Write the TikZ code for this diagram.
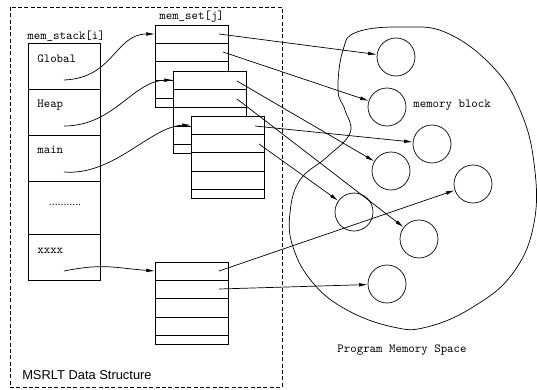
\documentclass[tikz,border=0pt]{standalone}
\usepackage{fontspec}
\setsansfont{Liberation Sans}
\usetikzlibrary{arrows.meta}
\begin{document}
\begin{tikzpicture}[x=0.03cm, y=-0.03cm, line width=0.6pt,
        block/.style = {circle, draw,
            minimum size = 1.14cm,
            inner sep = 0pt
        },
        code/.style = {font = \ttfamily\fontsize{10.5}{12}\selectfont, inner sep = 0pt},
        setbox/.style = {draw, fill = white},
        ptr/.style = {-{Latex[length = 2.6mm, width = 1.1mm]}}]

    \useasboundingbox (0,0) rectangle (537,389);

    % MSRLT area
    \draw[dash pattern = on 1.2mm off 0.7mm, line width = 0.5pt] (10,7) rectangle (282,387);
    \node[anchor = west, font = \sffamily\fontsize{11}{13}\selectfont] (msrlt) at (18,375) {MSRLT Data Structure};

    % mem_stack
    \node[code, anchor = west] (stacklabel) at (27,36) {mem\_stack[i]};
    \draw (28,43) rectangle (100,280);
    \draw (28,89) -- (100,89);
    \draw (28,135) -- (100,135);
    \draw (28,181) -- (100,181);
    \draw (28,234) -- (100,234);
    \node[code, anchor = west] (global) at (37,59) {Global};
    \node[code, anchor = west] (heap) at (37,105) {Heap};
    \node[code, anchor = west] (main) at (37,150) {main};
    \node[font = \sffamily\fontsize{9}{11}\selectfont, inner sep = 0pt] (dots) at (65,205) {...........};
    \node[code, anchor = west] (xxxx) at (37,251) {xxxx};
    \coordinate (globalout) at (64,80);
    \coordinate (heapout) at (64,126);
    \coordinate (mainout) at (64,172);
    \coordinate (xxxxout) at (64,271);

    % mem_set
    \node[code, anchor = west] (setlabel) at (159,17) {mem\_set[j]};
    \draw[setbox] (155,25) rectangle (228,107);
    \foreach \r in {18.3,36.6,55,73.3} \draw (155,25+\r) -- ++(73,0);
    \draw[setbox] (173,71) rectangle (246,153);
    \foreach \r in {18.3,36.6,55,73.3} \draw (173,71+\r) -- ++(73,0);
    \draw[setbox] (191,116) rectangle (264,198);
    \foreach \r in {18.3,36.6,55,73.3} \draw (191,116+\r) -- ++(73,0);
    \draw[setbox] (155,262) rectangle (228,344);
    \foreach \r in {18.3,36.6,55,73.3} \draw (155,262+\r) -- ++(73,0);

    \coordinate (set1in) at (155,34);
    \coordinate (set2in) at (173,80);
    \coordinate (set3in) at (191,125);
    \coordinate (set4in) at (155,271);
    \coordinate (s1a) at (219,34);
    \coordinate (s1b) at (223,52);
    \coordinate (s2a) at (237,81);
    \coordinate (s2b) at (237,99);
    \coordinate (s3a) at (255,126);
    \coordinate (s3b) at (259,144);
    \coordinate (s4a) at (219,271);
    \coordinate (s4b) at (219,289);

    % stack -> set
    \draw[ptr] (globalout) .. controls +(50,-2) and +(-40,0) .. (set1in);
    \draw[ptr] (heapout) .. controls +(50,0) and +(-40,1) .. (set2in);
    \draw[ptr] (mainout) .. controls +(50,4) and +(-40,1) .. (set3in);
    \draw[ptr] (xxxxout) .. controls +(40,-8) and +(-40,-3) .. (set4in);

    % Program memory space
    \draw plot[smooth cycle, tension = 0.7] coordinates {
        (343,50) (357,32) (403,27) (447,33) (493,67) (520,110) (534,163)
        (534,223) (513,273) (473,307) (427,327) (393,327) (347,310)
        (313,283) (293,247) (290,213) (300,180) (327,157) (350,133)
        (345,110) (338,90)};
    \node[code, anchor = west] (memlabel) at (413,105) {memory block};
    \node[code] (spacelabel) at (402,350) {Program Memory Space};

    % memory blocks
    \node[block] (blk1) at (396,57) {};
    \node[block] (blk2) at (387,107) {};
    \node[block] (blk3) at (432,144) {};
    \node[block] (blk4) at (391,171) {};
    \node[block] (blk5) at (473,184) {};
    \node[block] (blk6) at (354,212) {};
    \node[block] (blk7) at (419,239) {};
    \node[block] (blk8) at (387,284) {};

    % set -> blocks
    \draw[ptr] (s1a) -- (blk1);
    \draw[ptr] (s1b) -- (blk2);
    \draw[ptr] (s2a) -- (blk4);
    \draw[ptr] (s2b) -- (blk7);
    \draw[ptr] (s3a) -- (blk3);
    \draw[ptr] (s3b) -- (blk6);
    \draw[ptr] (s4a) -- (blk5);
    \draw[ptr] (s4b) -- (blk8);

\end{tikzpicture}
\end{document}
